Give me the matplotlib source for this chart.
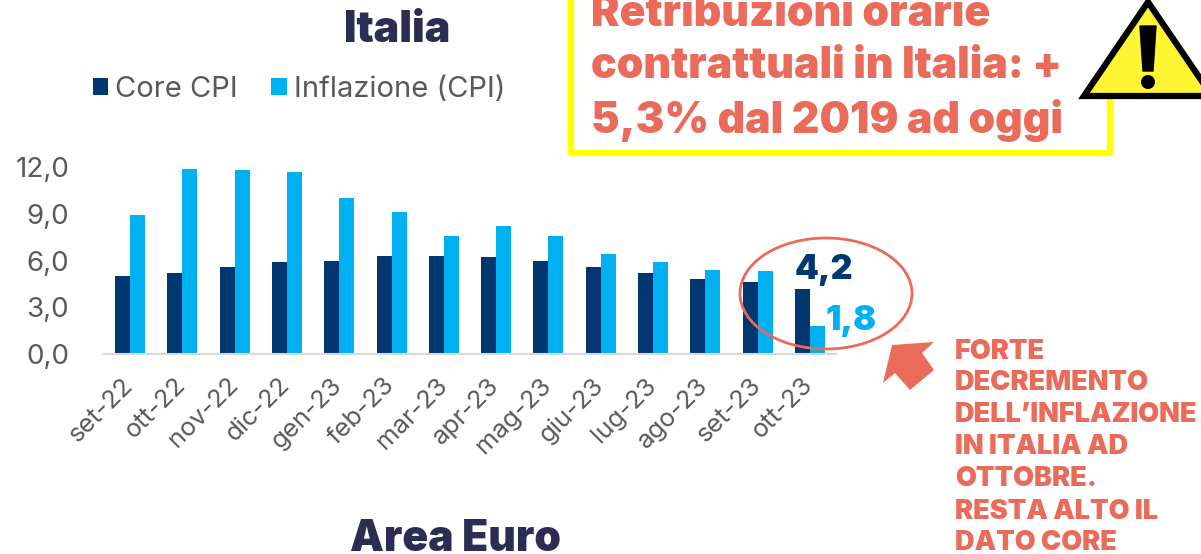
import matplotlib
matplotlib.use('Agg')
import matplotlib.pyplot as plt
from matplotlib.patches import Ellipse, Polygon, Rectangle
from matplotlib.transforms import ScaledTranslation

plt.rcParams['font.family'] = ['Inter', 'DejaVu Sans']

months = ['set-22', 'ott-22', 'nov-22', 'dic-22', 'gen-23', 'feb-23', 'mar-23',
          'apr-23', 'mag-23', 'giu-23', 'lug-23', 'ago-23', 'set-23', 'ott-23']
core_cpi = [5.0, 5.2, 5.6, 5.9, 6.0, 6.3, 6.3, 6.2, 6.0, 5.6, 5.2, 4.8, 4.6, 4.2]
inflazione = [8.9, 11.9, 11.8, 11.7, 10.0, 9.1, 7.6, 8.2, 7.6, 6.4, 5.9, 5.4, 5.3, 1.8]
y_ticks = [0, 3, 6, 9, 12]
y_labels = ['0,0', '3,0', '6,0', '9,0', '12,0']
note_lines = ['FORTE', 'DECREMENTO', 'DELL’INFLAZIONE', 'IN ITALIA AD',
              'OTTOBRE.', 'RESTA ALTO IL', 'DATO CORE']
note_y = [352, 383, 415, 447, 479, 512, 543]

W, H = 1201, 554
DARK = '#003770'
LIGHT = '#00B0F0'
RED = '#EB6B5A'
GREY = '#595959'

fig = plt.figure(figsize=(W / 100, H / 100), dpi=100)

# chart area, placed in pixels
ax = fig.add_axes([104 / W, 1 - 354 / H, 732 / W, 187 / H])
x = range(len(months))
bar_w = 0.287
ax.bar([i - bar_w / 2 for i in x], core_cpi, bar_w, color=DARK, label='Core CPI')
ax.bar([i + bar_w / 2 for i in x], inflazione, bar_w, color=LIGHT, label='Inflazione (CPI)')
ax.set_xlim(-0.5, 13.5)
ax.set_ylim(0, 12)
ax.set_yticks(y_ticks, y_labels, fontsize=20, color=GREY)
ax.set_xticks(list(x), months, fontsize=18.5, color=GREY, rotation=45, ha='right',
              rotation_mode='anchor')
ax.tick_params(axis='y', length=0, pad=25)
ax.tick_params(axis='x', length=0, pad=14)
shift = ScaledTranslation(-6 / 72, 0, fig.dpi_scale_trans)
for lab in ax.get_xticklabels():
    lab.set_transform(lab.get_transform() + shift)
for s in ['top', 'right', 'left']:
    ax.spines[s].set_visible(False)
ax.spines['bottom'].set_color('#D9D9D9')
ax.spines['bottom'].set_linewidth(1.5)
ax.legend(loc='lower left', bbox_to_anchor=(93 / W, 1 - 103 / H), bbox_transform=fig.transFigure,
          ncol=2, frameon=False, fontsize=21, labelcolor=GREY, handlelength=0.52, handleheight=0.52,
          handletextpad=0.24, columnspacing=1.15, borderpad=0, borderaxespad=0)

# overlay in pixel coordinates for the callouts
over = fig.add_axes([0, 0, 1, 1])
over.set_xlim(0, W)
over.set_ylim(H, 0)
over.axis('off')
over.patch.set_alpha(0)

over.text(397, 30, 'Italia', fontsize=31, fontweight=900, color='#2B2D52', ha='center', va='center')
over.text(455, 551, 'Area Euro', fontsize=30.7, fontweight=900, color='#2B2D52', ha='center', va='baseline')

over.add_patch(Rectangle((571, -10), 539, 163, fill=False, ec='#FFFF00', lw=4.5, joinstyle='round'))
for line, yy in zip(['Retribuzioni orarie', 'contrattuali in Italia: +', '5,3% dal 2019 ad oggi'], [15, 67, 120]):
    over.text(591, yy, line, fontsize=30.8, fontweight=900, color=RED, ha='left', va='center')

# warning sign, on a white ground that hides the box corner
over.add_patch(Rectangle((1079, -5), 130, 103, fc='white', ec='none'))
over.add_patch(Polygon([(1148, 2), (1084, 96), (1212, 96)], closed=True, fc='#FFF533', ec='black',
                       lw=4.5, joinstyle='miter'))
over.add_patch(Polygon([(1140, 26), (1156, 26), (1153, 71), (1143, 71)], closed=True, fc='black', ec='black', lw=1))
over.add_patch(Ellipse((1148, 82), 14, 14, fc='black', ec='none'))

over.add_patch(Ellipse((826, 293.5), 172, 111, fill=False, ec=RED, lw=2))
over.text(824, 270, '4,2', fontsize=24.5, fontweight=900, color=DARK, ha='center', va='center')
over.text(851, 321, '1,8', fontsize=24.5, fontweight=900, color=LIGHT, ha='center', va='center')

arrow = [(892, 345), (934, 342), (922, 353), (934, 370), (910, 390), (895, 373), (883, 383)]
over.add_patch(Polygon(arrow, closed=True, fc=RED, ec='none'))

for line, yy in zip(note_lines, note_y):
    over.text(955, yy, line, fontsize=19.5, fontweight=900, color=RED, ha='left', va='center')

fig.savefig('out.png', dpi=100)
